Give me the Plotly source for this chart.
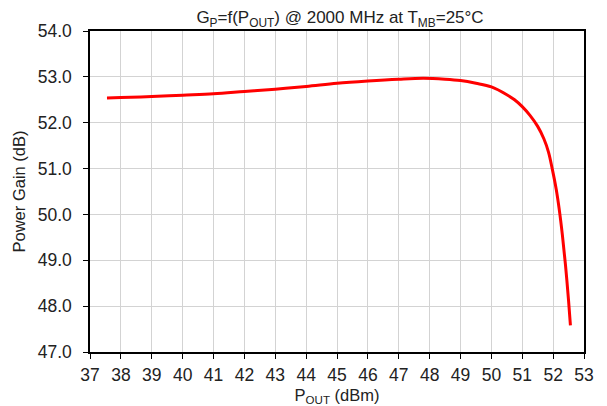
import plotly.graph_objects as go

pout = [37.55, 38, 39, 40, 41, 42, 43, 44, 45, 46, 47, 47.8, 48.5, 49, 49.5, 50,
        50.5, 50.75, 51, 51.25, 51.5, 51.7, 51.85, 51.97, 52.1, 52.2, 52.3, 52.4, 52.5, 52.56]
gain = [52.54, 52.55, 52.57, 52.60, 52.63, 52.68, 52.73, 52.79, 52.86, 52.91, 52.95,
        52.97, 52.95, 52.92, 52.86, 52.78, 52.61, 52.50, 52.35, 52.16, 51.92, 51.65,
        51.36, 51.0, 50.55, 50.1, 49.55, 48.9, 48.12, 47.58]

x_ticks = list(range(37, 54))
y_ticks = [47.0, 48.0, 49.0, 50.0, 51.0, 52.0, 53.0, 54.0]

fig = go.Figure()
fig.add_trace(go.Scatter(x=pout, y=gain, mode="lines",
                         line=dict(color="#ff0000", width=3, shape="spline", smoothing=1.0),
                         showlegend=False, hoverinfo="skip"))

# the page body adds an 8 px offset, so the figure is sized to fit the window
W, H = 599, 398
font = "Liberation Sans, Arial, sans-serif"
fig.update_layout(
    width=W, height=H,
    margin=dict(l=82, r=23, t=23, b=54),
    paper_bgcolor="white", plot_bgcolor="white",
    font=dict(family=font, color="#222222"),
    title=dict(text="G<sub>P</sub>=f(P<sub>OUT</sub>) @ 2000 MHz at T<sub>MB</sub>=25°C",
               x=332 / W, xanchor="center", y=1 - 9 / H, yanchor="middle",
               font=dict(size=17, family=font)),
    xaxis=dict(range=[37, 53], tickvals=x_ticks, ticktext=[str(v) for v in x_ticks],
               showgrid=True, gridcolor="#d3d3d3", gridwidth=1,
               showline=True, linecolor="black", linewidth=1.5, mirror=True,
               ticks="outside", ticklen=5, tickcolor="black", tickwidth=1,
               tickfont=dict(size=17.5), zeroline=False, automargin=False,
               ticklabelstandoff=1,
               title=dict(text="P<sub>OUT</sub> (dBm)", font=dict(size=16.5), standoff=9)),
    yaxis=dict(range=[47, 54], tickvals=y_ticks, ticktext=[f"{v:.1f}" for v in y_ticks],
               showgrid=True, gridcolor="#d3d3d3", gridwidth=1,
               showline=True, linecolor="black", linewidth=1.5, mirror=True,
               ticks="outside", ticklen=5, tickcolor="black", tickwidth=1,
               tickfont=dict(size=17.5), zeroline=False, automargin=False,
               ticklabelstandoff=8,
               title=dict(text="Power Gain (dB)", font=dict(size=16.5), standoff=8)),
)
fig.write_html("out.html")
